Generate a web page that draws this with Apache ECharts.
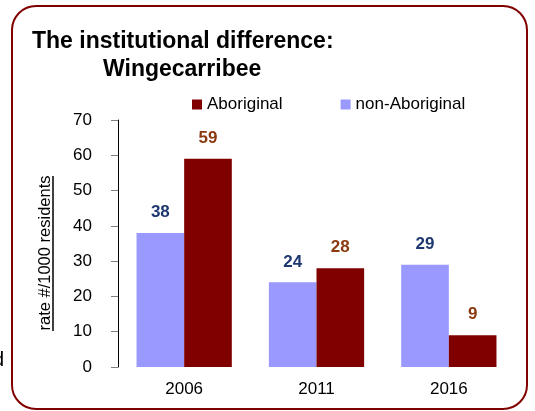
<!DOCTYPE html>
<html>
<head>
<meta charset="utf-8">
<script src="https://cdn.jsdelivr.net/npm/echarts@6/dist/echarts.min.js"></script>
<style>
  html,body{margin:0;padding:0;background:#fff;}
  #chart{width:535px;height:411px;}
</style>
</head>
<body>
<div id="chart"></div>
<script>
var years = ['2006', '2011', '2016'];
var aboriginal = [59, 28, 9];
var nonAboriginal = [38, 24, 29];
var yTicks = [0, 70, 10]; // min, max, step

var chart = echarts.init(document.getElementById('chart'));
var font = '"Liberation Sans", Arial, sans-serif';
var option = {
  animation: false,
  textStyle: {fontFamily: font},
  title: [
    {text: 'The institutional difference:', left: 27, top: 25,
      textStyle: {fontSize: 23, fontWeight: 'bold', color: '#000', fontFamily: font}},
    {text: 'Wingecarribee', left: 98, top: 53,
      textStyle: {fontSize: 23, fontWeight: 'bold', color: '#000', fontFamily: font}}
  ],
  legend: {
    data: ['Aboriginal', 'non-Aboriginal'],
    left: 187, top: 91,
    itemWidth: 10, itemHeight: 10, itemGap: 58,
    icon: 'rect',
    textStyle: {fontSize: 17, color: '#000'}
  },
  grid: {left: 118, top: 120, right: 20, bottom: 44},
  xAxis: {
    type: 'category',
    data: years,
    axisLine: {show: false},
    axisTick: {show: false},
    axisLabel: {fontSize: 17, color: '#000', margin: 14}
  },
  yAxis: {
    type: 'value',
    min: yTicks[0], max: yTicks[1], interval: yTicks[2],
    axisLine: {show: true, lineStyle: {color: '#000', width: 1}},
    axisTick: {show: true, length: 7, lineStyle: {color: '#808080'}},
    axisLabel: {fontSize: 17, color: '#000', margin: 26},
    splitLine: {show: false}
  },
  series: [
    {
      name: 'non-Aboriginal', type: 'bar', data: nonAboriginal,
      barGap: '0%', barCategoryGap: '28%',
      itemStyle: {color: '#9999FF'},
      label: {show: true, position: 'top', distance: 12, fontSize: 17, fontWeight: 'bold', color: '#1F3870'}
    },
    {
      name: 'Aboriginal', type: 'bar', data: aboriginal,
      barGap: '0%', barCategoryGap: '28%',
      itemStyle: {color: '#800000'},
      label: {show: true, position: 'top', distance: 12, fontSize: 17, fontWeight: 'bold', color: '#8B3A0F'}
    }
  ],
  graphic: [
    {type: 'rect', shape: {x: 12, y: 6, width: 515, height: 403, r: 24},
      style: {fill: 'none', stroke: '#800000', lineWidth: 2}, z: -1},
    {type: 'text', x: 45, y: 253, rotation: Math.PI / 2,
      style: {text: 'rate #/1000 residents', font: '16.5px ' + font, fill: '#000',
        align: 'center', verticalAlign: 'middle'}},
    {type: 'line', shape: {x1: 53, y1: 176, x2: 53, y2: 331},
      style: {stroke: '#000', lineWidth: 1.5}},
    {type: 'text', x: -7, y: 350,
      style: {text: 'd', font: '20px ' + font, fill: '#000'}}
  ]
};
chart.setOption(option);
</script>
</body>
</html>
